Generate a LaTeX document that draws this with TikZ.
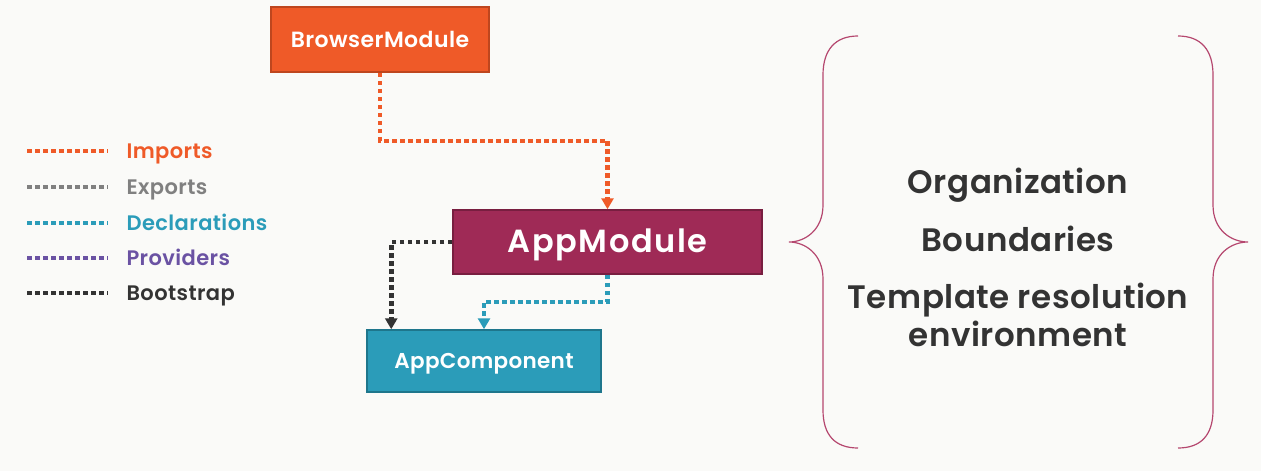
\documentclass[tikz,border=0pt]{standalone}
\usepackage{fontspec}
\setmainfont{Poppins}[BoldFont={* SemiBold}]
\usetikzlibrary{arrows.meta}
\definecolor{bgc}{RGB}{250,250,248}
\definecolor{orng}{RGB}{239,90,40}
\definecolor{orngd}{RGB}{190,70,30}
\definecolor{crim}{RGB}{159,42,86}
\definecolor{crimd}{RGB}{120,30,64}
\definecolor{teal}{RGB}{43,156,185}
\definecolor{teald}{RGB}{30,118,140}
\definecolor{grayc}{RGB}{128,128,128}
\definecolor{purp}{RGB}{106,82,163}
\definecolor{dark}{RGB}{51,51,51}
\definecolor{brace}{RGB}{181,71,111}
\tikzset{
  box/.style={draw, line width=1.5pt, text=white, inner sep=0pt, text depth=0pt},
  dotline/.style={line width=4.5pt, dash pattern=on 4.5pt off 3.5pt},
  tip/.style={-{Triangle[width=12pt,length=11pt]}},
  legtext/.style={anchor=base west, font=\fontsize{21}{24}\bfseries\selectfont\addfontfeatures{LetterSpace=2}},
  bigtext/.style={anchor=base, text=dark, font=\fontsize{32.5}{36}\bfseries\selectfont\addfontfeatures{LetterSpace=1.5}},
}
\begin{document}
\begin{tikzpicture}[x=1pt,y=-1pt]
\fill[bgc] (0,0) rectangle (1261,471);
\useasboundingbox (0,0) rectangle (1261,471);
% boxes
\node[box, fill=orng, draw=orngd, minimum width=218pt, minimum height=65pt, text height=15pt,
  font=\fontsize{22}{24}\bfseries\selectfont\addfontfeatures{LetterSpace=2}] (bm) at (380,39.5) {BrowserModule};
\node[box, fill=crim, draw=crimd, minimum width=309pt, minimum height=64pt, text height=21pt,
  font=\fontsize{32}{34}\bfseries\selectfont\addfontfeatures{LetterSpace=5}] (am) at (607.5,242) {AppModule};
\node[box, fill=teal, draw=teald, minimum width=234pt, minimum height=62pt, text height=15pt,
  font=\fontsize{21.5}{24}\bfseries\selectfont\addfontfeatures{LetterSpace=1.5}] (ac) at (484,361) {AppComponent};
% connectors
\draw[dotline, orng, tip] (bm.south) -- ++(0,68) -| (am.north);
\draw[dotline, dark, tip] (am.west) -| ([xshift=25pt]ac.north west);
\draw[dotline, teal, tip] (am.south) -- ++(0,27) -| (ac.north);
% legend
\foreach \yy/\cc/\tt [count=\i] in {151/orng/Imports,187/grayc/Exports,223/teal/Declarations,258/purp/Providers,293/dark/Bootstrap}{
  \draw[dotline, \cc] (27,\yy) -- (108,\yy);
  \node[legtext, text=\cc] (leg\i) at (123,\yy+7) {\tt};
}
% braces
\draw[brace, line width=1.2pt] (858,36) .. controls (835,36) and (823,50) .. (823,75) -- (823,205)
  .. controls (823,230) and (805,242) .. (789,242) .. controls (805,242) and (823,254) .. (823,279)
  -- (823,410) .. controls (823,435) and (835,448) .. (858,448);
\draw[brace, line width=1.2pt] (1178,36) .. controls (1201,36) and (1213,50) .. (1213,75) -- (1213,205)
  .. controls (1213,230) and (1231,242) .. (1248,242) .. controls (1231,242) and (1213,254) .. (1213,279)
  -- (1213,410) .. controls (1213,435) and (1201,448) .. (1178,448);
% right text
\node[bigtext] (t1) at (1018,193) {Organization};
\node[bigtext] (t2) at (1018,251) {Boundaries};
\node[bigtext] (t3) at (1018,308) {Template resolution};
\node[bigtext] (t4) at (1018,346) {environment};
\end{tikzpicture}
\end{document}
